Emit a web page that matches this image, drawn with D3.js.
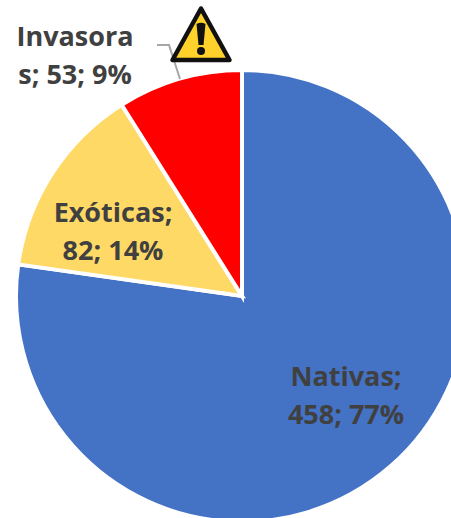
<!DOCTYPE html>
<html><head><meta charset="utf-8">
<script src="https://cdn.jsdelivr.net/npm/d3@7"></script>
<style>html,body{margin:0;padding:0;background:#fff;overflow:hidden}svg{display:block}
text{font-family:"Open Sans",sans-serif;font-weight:700;fill:#404040;font-size:27px;text-anchor:middle}</style>
</head><body><svg id="c" width="451" height="518"></svg>
<script>
const categories = ["Nativas","Exóticas","Invasoras"];
const values = [458,82,53];
const percents = ["77%","14%","9%"];
const colors = ["#4472C4","#FFD966","#FF0000"];
const labelLines = [["Nativas;","458; 77%"],["Exóticas;","82; 14%"],["Invasora","s; 53; 9%"]];
const labelCentres = [[346,396],[113,232],[75,56]];
const lineHeight = 38;

const svg = d3.select("#c");
const g = svg.append("g").attr("transform","translate(242,296)");
const pie = d3.pie().sort(null)(values);
const arc = d3.arc().innerRadius(0).outerRadius(226);
g.selectAll("path.slice").data(pie).join("path").attr("class","slice")
  .attr("d",arc).attr("fill",(d,i)=>colors[i]).attr("stroke","#fff").attr("stroke-width",4).attr("stroke-linejoin","miter");

// leader line
svg.append("path").attr("d",d3.line()([[157,45],[169,45],[180,79]]))
  .attr("fill","none").attr("stroke","#A6A6A6").attr("stroke-width",2);

// labels
labelLines.forEach((ls,i)=>{
  const t = svg.append("text").attr("transform",`translate(${labelCentres[i][0]},${labelCentres[i][1]})`);
  ls.forEach((s,j)=>t.append("tspan").attr("x",0).attr("y",(j-(ls.length-1)/2)*lineHeight+9).text(s));
});

// warning icon
const w = svg.append("g").attr("transform","translate(201,34)");
w.append("path").attr("d","M0,-25.5 L-28.5,26 L28.5,26 Z").attr("fill","#FFD22B").attr("stroke","#111").attr("stroke-width",4.5).attr("stroke-linejoin","round");
w.append("path").attr("d","M-4.5,-10 Q0,-12.5 4.5,-10 L2.5,11 L-2.5,11 Z").attr("fill","#111");
w.append("circle").attr("cx",0).attr("cy",17).attr("r",4).attr("fill","#111");
</script></body></html>
